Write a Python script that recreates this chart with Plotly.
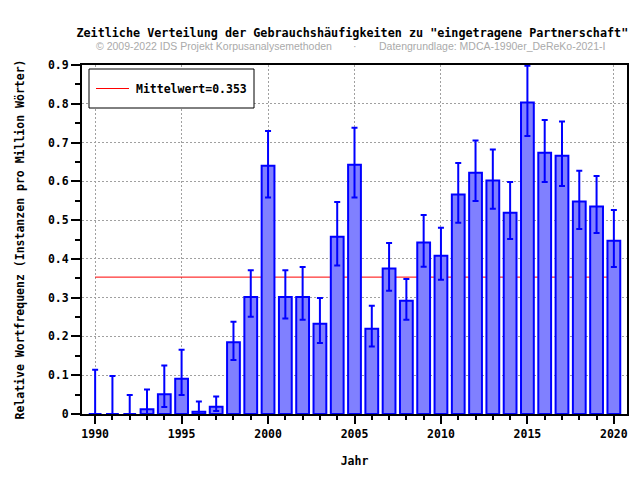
import plotly.graph_objects as go

years = list(range(1990, 2021))
freq = [0.0, 0.0, 0.0, 0.012, 0.051, 0.091, 0.006, 0.019, 0.185, 0.302,
        0.640, 0.302, 0.302, 0.233, 0.457, 0.643, 0.220, 0.375, 0.292, 0.442,
        0.408, 0.566, 0.622, 0.602, 0.519, 0.803, 0.674, 0.666, 0.548, 0.535,
        0.447]
upper = [0.114, 0.098, 0.049, 0.063, 0.125, 0.166, 0.032, 0.045, 0.238, 0.371,
         0.730, 0.371, 0.379, 0.299, 0.547, 0.738, 0.279, 0.441, 0.348, 0.513,
         0.480, 0.647, 0.705, 0.682, 0.598, 0.898, 0.758, 0.754, 0.627, 0.614,
         0.526]
lower = [0.0, 0.0, 0.0, 0.0, 0.018, 0.049, 0.0, 0.008, 0.139, 0.251,
         0.558, 0.246, 0.243, 0.183, 0.383, 0.558, 0.174, 0.318, 0.243, 0.380,
         0.346, 0.493, 0.549, 0.529, 0.451, 0.717, 0.598, 0.588, 0.477, 0.467,
         0.379]
mean_value = 0.353
x_ticks = [1990, 1995, 2000, 2005, 2010, 2015, 2020]
y_ticks = [0, 0.1, 0.2, 0.3, 0.4, 0.5, 0.6, 0.7, 0.8, 0.9]

title_text = 'Zeitliche Verteilung der Gebrauchshäufigkeiten zu "eingetragene Partnerschaft"'
sub_left = "© 2009-2022 IDS Projekt Korpusanalysemethoden"
sub_right = "Datengrundlage: MDCA-1990er_DeReKo-2021-I"
legend_label = "Mittelwert=0.353"

W, H = 640, 480
OFF = 8  # page body margin offset in the screenshot
# plot area in screenshot pixels
SL, SR, ST, SB = 82, 627, 65, 414
L, R, T, B = SL - OFF, SR - OFF, ST - OFF, SB - OFF


def px_x(px):
    return (px - SL) / (SR - SL)


def px_y(py):
    return (SB - py) / (SB - ST)


MONO = "DejaVu Sans Mono"
fs = 11.5
fs_title = 11.75

err_plus = [u - f for u, f in zip(upper, freq)]
err_minus = [f - l for f, l in zip(freq, lower)]

fig = go.Figure()
fig.add_trace(go.Bar(
    x=years, y=freq, width=0.74,
    marker=dict(color="#8080ff", line=dict(color="#0000ff", width=2)),
    error_y=dict(type="data", symmetric=False, array=err_plus,
                 arrayminus=err_minus, color="#0000ff", thickness=2, width=3),
    showlegend=False,
))

fig.add_shape(type="line", xref="x", yref="y", x0=years[0], x1=years[-1],
              y0=mean_value, y1=mean_value, layer="between",
              line=dict(color="#ff0000", width=1))

# legend box
fig.add_shape(type="rect", xref="paper", yref="paper",
              x0=px_x(89), x1=px_x(254), y0=px_y(108), y1=px_y(69),
              fillcolor="white", line=dict(color="black", width=1), layer="above")
fig.add_shape(type="line", xref="paper", yref="paper",
              x0=px_x(96), x1=px_x(129), y0=px_y(88.5), y1=px_y(88.5),
              line=dict(color="#ff0000", width=1), layer="above")
fig.add_annotation(text=legend_label, xref="paper", yref="paper",
                   x=px_x(134), y=px_y(88.5), xanchor="left", yanchor="middle",
                   showarrow=False, font=dict(family=MONO, size=fs, color="black", weight="bold"))

# subtitle
sub_font = dict(family="Liberation Sans", size=10.5, color="#aaaaaa")
fig.add_annotation(text=sub_left, xref="paper", yref="paper", x=px_x(94), y=px_y(46),
                   xanchor="left", yanchor="middle", showarrow=False, font=sub_font)
fig.add_annotation(text="·", xref="paper", yref="paper", x=px_x(355), y=px_y(46),
                   xanchor="center", yanchor="middle", showarrow=False, font=sub_font)
fig.add_annotation(text=sub_right, xref="paper", yref="paper", x=px_x(377), y=px_y(46),
                   xanchor="left", yanchor="middle", showarrow=False, font=sub_font)

axis_common = dict(
    showline=True, linecolor="black", linewidth=2, mirror=True,
    ticks="outside", tickcolor="black", tickwidth=2,
    showgrid=True, gridcolor="#a0a0a0", gridwidth=1, griddash="2px,2px",
    zeroline=False, tickfont=dict(family=MONO, size=fs, color="black", weight="bold"),
)

fig.update_layout(
    width=W, height=H,
    margin=dict(l=L, r=W - R, t=T, b=H - B, autoexpand=False),
    paper_bgcolor="white", plot_bgcolor="white",
    title=dict(text=title_text, x=0.496, xref="paper", y=1 - (33 - OFF) / H, yref="container",
               xanchor="center", yanchor="middle",
               font=dict(family=MONO, size=fs_title, color="black", weight="bold")),
    xaxis=dict(range=[1989.24, 2020.76], tickvals=x_ticks, ticklen=8,
               minor=dict(dtick=1, tick0=1990, ticklen=4, tickwidth=2, tickcolor="black",
                          ticks="outside", showgrid=False),
               title=dict(text="Jahr", standoff=17,
                          font=dict(family=MONO, size=fs, color="black", weight="bold")),
               automargin=False, **axis_common),
    yaxis=dict(range=[0, 0.9], tickvals=y_ticks, ticktext=["0"] + [f"{v:.1f}" for v in y_ticks[1:]],
               ticklen=9,
               minor=dict(dtick=0.05, tick0=0, ticklen=5, tickwidth=2, tickcolor="black",
                          ticks="outside", showgrid=False),
               title=dict(text="Relative Wortfrequenz (Instanzen pro Million Wörter)", standoff=21,
                          font=dict(family=MONO, size=fs, color="black", weight="bold")),
               automargin=False, **axis_common),
)

fig.write_html("out.html")
